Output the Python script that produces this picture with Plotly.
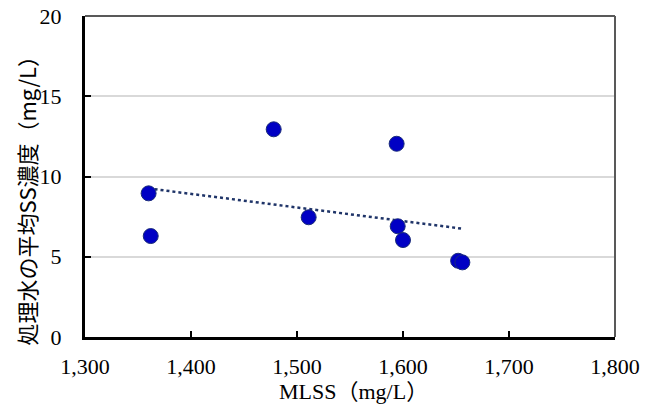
import numpy as np
import plotly.graph_objects as go

# MLSS (mg/L) and mean SS of treated water (mg/L)
mlss = [1360, 1362, 1478, 1511, 1594, 1595, 1600, 1652, 1656]
ss_mean = [8.95, 6.29, 12.94, 7.46, 12.04, 6.90, 6.04, 4.75, 4.65]

x_ticks = [1300, 1400, 1500, 1600, 1700, 1800]
y_ticks = [0, 5, 10, 15, 20]

x_title = "MLSS（mg/L）"
y_title = "処理水の平均SS濃度（mg/L）"

# linear trend line over the observed MLSS range
slope, intercept = np.polyfit(mlss, ss_mean, 1)
trend_x = [min(mlss), max(mlss)]
trend_y = [slope * v + intercept for v in trend_x]

fig = go.Figure()
fig.add_trace(go.Scatter(
    x=trend_x, y=trend_y, mode="lines",
    line=dict(color="#1F3468", width=2.5, dash="dot"),
    hoverinfo="skip", showlegend=False,
))
fig.add_trace(go.Scatter(
    x=mlss, y=ss_mean, mode="markers",
    marker=dict(size=15, color="#0000C4", line=dict(color="#1B2C7A", width=1)),
    showlegend=False,
))

serif = "Liberation Serif"
fig.update_layout(
    width=652, height=406,
    margin=dict(l=85, r=37, t=16, b=69),
    paper_bgcolor="white", plot_bgcolor="white",
    xaxis=dict(
        range=[1300, 1800], tickvals=x_ticks,
        ticktext=[f"{v:,}" for v in x_ticks],
        ticks="inside", ticklen=6, tickwidth=2, tickcolor="black",
        showline=True, linecolor="black", linewidth=3,
        showgrid=False, zeroline=False, automargin=False,
        ticklabelstandoff=8,
        tickfont=dict(family=serif, size=22, color="black"),
    ),
    yaxis=dict(
        range=[0, 20], tickvals=y_ticks,
        ticks="inside", ticklen=6, tickwidth=2, tickcolor="black",
        showline=True, linecolor="black", linewidth=3,
        showgrid=True, gridcolor="#D9D9D9", gridwidth=1.5,
        zeroline=False, automargin=False,
        ticklabelstandoff=16,
        tickfont=dict(family=serif, size=22, color="black"),
    ),
    shapes=[
        dict(type="line", xref="paper", yref="paper", x0=0, x1=1, y0=1, y1=1,
             line=dict(color="#595959", width=2)),
        dict(type="line", xref="paper", yref="paper", x0=1, x1=1, y0=0, y1=1,
             line=dict(color="#595959", width=2)),
    ],
    annotations=[
        dict(text=x_title, xref="paper", yref="paper", x=0.506, y=-0.17,
             xanchor="center", yanchor="middle", showarrow=False,
             font=dict(family=serif + ", Noto Sans CJK JP", size=22, color="black")),
        dict(text=y_title, xref="paper", yref="paper", x=-0.112, y=0.44,
             xanchor="center", yanchor="middle", showarrow=False, textangle=-90,
             font=dict(family="Noto Sans CJK JP", size=22, color="black")),
    ],
)

fig.write_html("out.html")
